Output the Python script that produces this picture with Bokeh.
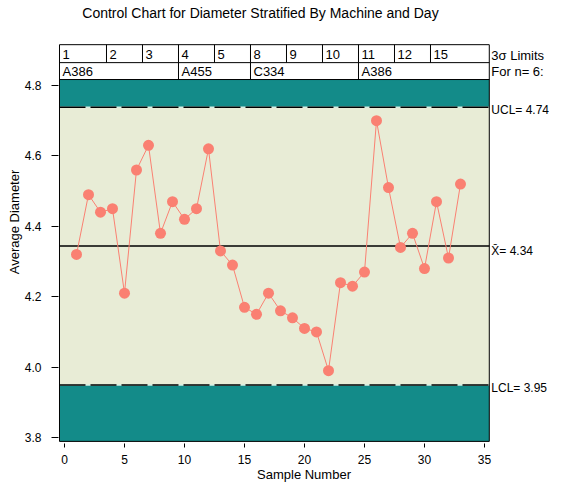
import numpy as np

from bokeh.plotting import figure
from bokeh.models import Range1d, FixedTicker, PrintfTickFormatter
from bokeh.core.properties import value
from bokeh.embed import file_html
from bokeh.resources import INLINE

# subgroup means
sample = list(range(1, 34))
diameter = [4.32, 4.49, 4.44, 4.45, 4.21, 4.56, 4.63, 4.38, 4.47, 4.42, 4.45,
            4.62, 4.33, 4.29, 4.17, 4.15, 4.21, 4.16, 4.14, 4.11, 4.10, 3.99,
            4.24, 4.23, 4.27, 4.70, 4.51, 4.34, 4.38, 4.28, 4.47, 4.31, 4.52]

# strata shown in the block above the chart
days = ["1", "2", "3", "4", "5", "8", "9", "10", "11", "12", "15"]
day_sizes = [3, 3, 3, 3, 3, 3, 3, 3, 3, 3, 3]
machines = ["A386", "A455", "C334", "A386"]
machine_sizes = [9, 6, 9, 9]

# 3 sigma limits for n=6
ucl = 4.738
center = 4.344
lcl = 3.949

x_ticks = [0, 5, 10, 15, 20, 25, 30, 35]
y_ticks = [3.8, 4.0, 4.2, 4.4, 4.6, 4.8]

FONT = "Liberation Sans"
TEAL = "#138b89"
PALE = "#e8ecd6"
SALMON = "#fa8072"

# box geometry (data units)
box_x0, box_x1 = -0.417, 35.4
box_y0 = 3.789
chart_top = 4.817
row_mid = 4.865
box_top = 4.916

p = figure(width=549, height=484, output_backend="svg", toolbar_location=None,
           x_range=Range1d(-0.5, 40.417), y_range=Range1d(3.783, 5.0415),
           min_border_left=58, min_border_right=0, min_border_top=0,
           min_border_bottom=41)
p.outline_line_color = None
p.background_fill_color = "white"
p.border_fill_color = "white"
p.xgrid.grid_line_color = None
p.ygrid.grid_line_color = None

# zones
p.quad(left=box_x0, right=box_x1, bottom=lcl, top=ucl, fill_color=PALE, line_color=None)
p.quad(left=[box_x0, box_x0], right=[box_x1, box_x1], bottom=[ucl, box_y0],
       top=[chart_top, lcl], fill_color=TEAL, line_color=None)

# limit lines
p.segment(x0=[box_x0, box_x0], x1=[box_x1, box_x1], y0=[ucl, lcl], y1=[ucl, lcl],
          line_color="#d6efe4", line_width=1.5)
p.segment(x0=[box_x0, box_x0], x1=[box_x1, box_x1], y0=[ucl, lcl], y1=[ucl, lcl],
          line_color="black", line_width=1.5, line_dash="26 5")
p.segment(x0=box_x0, x1=box_x1, y0=center, y1=center, line_color="black", line_width=1.3)

# strata block
day_edges = 0.5 + np.cumsum(day_sizes)
mach_edges = 0.5 + np.cumsum(machine_sizes)
p.segment(x0=day_edges[:-1], x1=day_edges[:-1], y0=row_mid, y1=box_top,
          line_color="black", line_width=1)
p.segment(x0=mach_edges[:-1], x1=mach_edges[:-1], y0=chart_top, y1=row_mid,
          line_color="black", line_width=1)
p.segment(x0=[box_x0, box_x0], x1=[box_x1, box_x1], y0=[row_mid, chart_top],
          y1=[row_mid, chart_top], line_color="black", line_width=1)
p.quad(left=box_x0, right=box_x1, bottom=box_y0, top=box_top,
       fill_color=None, line_color="black", line_width=1)

day_x = [box_x0] + list(day_edges[:-1])
mach_x = [box_x0] + list(mach_edges[:-1])
p.text(x=day_x, y=[4.889] * len(days), text=days, x_offset=3,
       text_font=value(FONT), text_font_size="13px",
       text_align="left", text_baseline="middle")
p.text(x=mach_x, y=[4.840] * len(machines), text=machines, x_offset=3,
       text_font=value(FONT), text_font_size="13px",
       text_align="left", text_baseline="middle")

# data
p.line(sample, diameter, line_color=SALMON, line_width=1)
p.scatter(sample, diameter, size=11, fill_color=SALMON, line_color=None)

# right hand annotations
p.text(x=[box_x1, box_x1], y=[4.886, 4.840], text=["3\u03c3  Limits", "For  n= 6:"],
       x_offset=2, text_font=value(FONT), text_font_size="13px",
       text_align="left", text_baseline="middle")
p.text(x=[box_x1] * 3, y=[ucl, center, lcl],
       text=["UCL= %.2f" % ucl, "X\u0304= %.2f" % center, "LCL= %.2f" % lcl],
       x_offset=2, y_offset=[3, 5, 3], text_font=value(FONT), text_font_size="12px",
       text_align="left", text_baseline="middle")

# title
p.text(x=[16.33], y=[5.005], text=["Control Chart for Diameter Stratified By Machine and Day"],
       text_font=value(FONT), text_font_size="14px",
       text_align="center", text_baseline="middle")

# axes
p.xaxis.ticker = FixedTicker(ticks=x_ticks)
p.yaxis.ticker = FixedTicker(ticks=y_ticks)
p.yaxis.formatter = PrintfTickFormatter(format="%.1f")
p.xaxis.axis_label = "Sample Number"
p.yaxis.axis_label = "Average Diameter"
for ax in (p.xaxis[0], p.yaxis[0]):
    ax.axis_line_color = None
    ax.minor_tick_line_color = None
    ax.major_tick_line_color = "black"
    ax.major_label_text_font = FONT
    ax.major_label_text_font_size = "12px"
    ax.major_label_text_color = "black"
    ax.axis_label_text_font = FONT
    ax.axis_label_text_font_size = "13px"
    ax.axis_label_text_font_style = "normal"
    ax.axis_label_text_color = "black"
p.xaxis.major_tick_in = 0
p.xaxis.major_tick_out = 4
p.xaxis.major_label_standoff = 7
p.xaxis.axis_label_standoff = 0
p.yaxis.major_tick_in = 0
p.yaxis.major_tick_out = 7
p.yaxis.major_label_standoff = 10
p.yaxis.axis_label_standoff = 0

open("out.html", "w").write(file_html(p, INLINE))
